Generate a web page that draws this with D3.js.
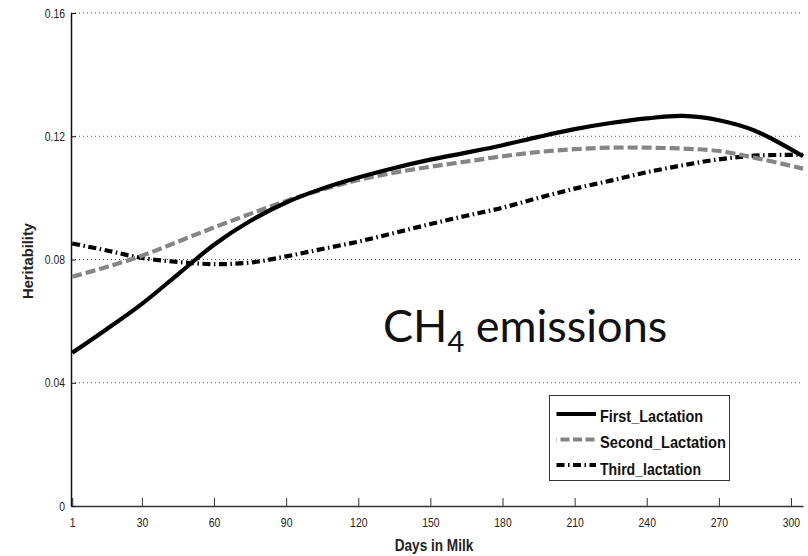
<!DOCTYPE html>
<html>
<head>
<meta charset="utf-8">
<script src="https://cdn.jsdelivr.net/npm/d3@7/dist/d3.min.js"></script>
<style>
  html, body { margin: 0; padding: 0; background: #fff; }
  svg { display: block; }
  .narrow { font-family: "Liberation Sans", Arial, sans-serif; }
</style>
</head>
<body>
<svg id="chart" width="808" height="556"></svg>
<script>
// Heritability of CH4 emissions across days in milk, by lactation
const days = [1, 15, 30, 45, 60, 75, 90, 105, 120, 135, 150, 165, 180, 195, 210, 225, 240, 255, 270, 285, 305];
const firstLactation  = [0.0497, 0.0572, 0.0656, 0.0752, 0.0848, 0.0925, 0.0985, 0.1030, 0.1066, 0.1097, 0.1124, 0.1147, 0.1171, 0.1198, 0.1223, 0.1243, 0.1258, 0.1266, 0.1252, 0.1218, 0.1135];
const secondLactation = [0.0744, 0.0775, 0.0812, 0.0858, 0.0904, 0.0948, 0.0990, 0.1027, 0.1058, 0.1082, 0.1101, 0.1118, 0.1135, 0.1149, 0.1158, 0.1163, 0.1163, 0.1160, 0.1152, 0.1130, 0.1095];
const thirdLactation  = [0.0852, 0.0830, 0.0805, 0.0792, 0.0785, 0.0790, 0.0810, 0.0834, 0.0858, 0.0886, 0.0915, 0.0942, 0.0968, 0.1000, 0.1030, 0.1056, 0.1083, 0.1106, 0.1125, 0.1137, 0.1140];
const seriesNames = ["First_Lactation", "Second_Lactation", "Third_lactation"];
const xTicks = [1, 30, 60, 90, 120, 150, 180, 210, 240, 270, 300];
const yTicks = [0, 0.04, 0.08, 0.12, 0.16];

const svg = d3.select("#chart");
const x = d3.scaleLinear().domain([0.5, 305]).range([71, 803]);
const y = d3.scaleLinear().domain([0, 0.16]).range([506, 13]);

// squeeze text horizontally to a narrow face
function condense(sel, factor) {
  sel.each(function () {
    const w = this.getComputedTextLength();
    d3.select(this).attr("textLength", w * factor).attr("lengthAdjust", "spacingAndGlyphs");
  });
}

// dotted horizontal grid
svg.append("g")
  .selectAll("line")
  .data(yTicks.filter(v => v > 0))
  .join("line")
  .attr("x1", x(0.5)).attr("x2", x(305))
  .attr("y1", d => y(d)).attr("y2", d => y(d))
  .attr("stroke", "#555").attr("stroke-width", 1)
  .attr("stroke-dasharray", "1,3");

// axes
const xAxis = d3.axisBottom(x).tickValues(xTicks).tickSizeInner(-8).tickSizeOuter(0).tickPadding(12);
const gx = svg.append("g").attr("transform", `translate(0,${y(0)})`).call(xAxis);
gx.select(".domain").attr("stroke", "#333").attr("stroke-width", 1.3);
gx.selectAll(".tick line").attr("stroke", "#333");
gx.selectAll("text").attr("class", "narrow").attr("font-size", 13).attr("fill", "#222").call(condense, 0.8);

const yAxis = d3.axisLeft(y).tickValues(yTicks).tickFormat(d => d === 0 ? "0" : d3.format(".2f")(d))
  .tickSizeInner(-5).tickSizeOuter(0).tickPadding(6);
const gy = svg.append("g").attr("transform", `translate(${x(0.5)},0)`).call(yAxis);
gy.select(".domain").attr("stroke", "#111").attr("stroke-width", 1.5);
gy.selectAll(".tick line").attr("stroke", "#111");
gy.selectAll("text").attr("class", "narrow").attr("font-size", 13).attr("fill", "#222").call(condense, 0.8);

// axis titles
svg.append("text").attr("class", "narrow")
  .attr("x", 434).attr("y", 551).attr("text-anchor", "middle")
  .attr("font-size", 16).attr("font-weight", "bold").attr("fill", "#222")
  .text("Days in Milk").call(condense, 0.85);
svg.append("text").attr("class", "narrow")
  .attr("transform", "translate(33,261) rotate(-90)").attr("text-anchor", "middle")
  .attr("font-size", 15).attr("font-weight", "bold").attr("fill", "#222")
  .text("Heritability").call(condense, 0.98);

// series
const styles = [
  { color: "#000", dash: null, width: 4.2 },
  { color: "#858585", dash: "10,4", width: 4.2 },
  { color: "#000", dash: "8,3.5,1.5,3.5", width: 4.2 }
];
const values = [firstLactation, secondLactation, thirdLactation];
const line = d3.line().x(d => x(d[0])).y(d => y(d[1])).curve(d3.curveCatmullRom);
// third and second go underneath the first
[2, 1, 0].forEach(i => {
  svg.append("path")
    .datum(days.map((d, j) => [d, values[i][j]]))
    .attr("d", line)
    .attr("fill", "none")
    .attr("stroke", styles[i].color)
    .attr("stroke-width", styles[i].width)
    .attr("stroke-dasharray", styles[i].dash);
});

// annotation
const note = svg.append("text")
  .attr("x", 383).attr("y", 342)
  .attr("font-family", "Lato, 'Open Sans', sans-serif")
  .attr("font-size", 45).attr("fill", "#111");
note.append("tspan").text("CH");
note.append("tspan").attr("font-size", 29).attr("dy", 10).text("4");
note.append("tspan").attr("dy", -10).text(" emissions");

// legend
const lg = svg.append("g").attr("transform", "translate(549.5,395.5)");
lg.append("rect").attr("width", 180).attr("height", 85)
  .attr("fill", "#fff").attr("stroke", "#333").attr("stroke-width", 1);
const legendTextWidth = [103, 126, 101];
seriesNames.forEach((name, i) => {
  const ly = 18.5 + i * 25.5;
  lg.append("line").attr("x1", 7).attr("x2", 46.5).attr("y1", ly).attr("y2", ly)
    .attr("stroke", styles[i].color).attr("stroke-width", styles[i].width)
    .attr("stroke-dasharray", i === 1 ? "9,3.5" : (i === 2 ? "8,3.5,1.5,3.5" : null))
    .attr("stroke-dashoffset", i === 1 ? -4 : 0);
  lg.append("text").attr("class", "narrow")
    .attr("x", 50.5).attr("y", 26.2 + i * 26.6)
    .attr("font-size", 17).attr("font-weight", "bold").attr("fill", "#111")
    .attr("textLength", legendTextWidth[i]).attr("lengthAdjust", "spacingAndGlyphs")
    .text(name);
});
</script>
</body>
</html>
